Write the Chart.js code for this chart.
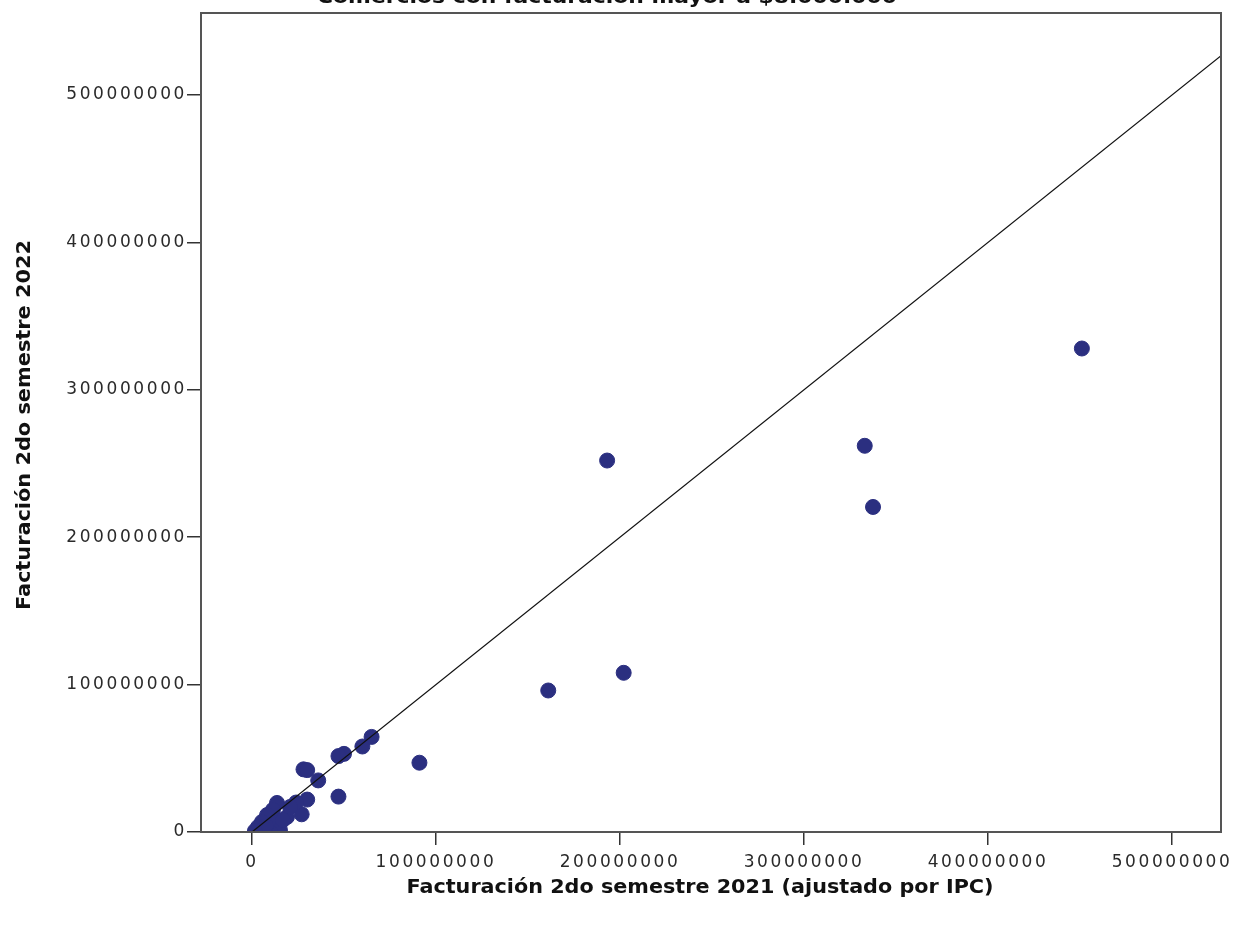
<!DOCTYPE html>
<html>
<head>
<meta charset="utf-8">
<script src="https://cdn.jsdelivr.net/npm/chart.js@4/dist/chart.umd.min.js"></script>
<style>
  body { margin: 0; background: #fff; }
  #wrap { width: 1235px; height: 927px; position: relative; }
</style>
</head>
<body>
<div id="wrap"><canvas id="scatterChart"></canvas></div>
<script>
// facturacion 2do semestre 2021 (ajustado por IPC) vs 2022, one entry per comercio
var facturacion2021 = [
  451000000, 333000000, 337500000, 193000000, 202000000, 161000000, 91000000,
  65000000, 60000000, 50000000, 47000000, 28000000, 30000000, 36000000,
  47000000, 30000000, 27000000, 24000000,
  13600000, 11400000, 8200000, 5400000, 3300000, 13600000, 15200000,
  9800000, 19000000, 20700000, 16800000, 7600000, 1600000
];
var facturacion2022 = [
  328000000, 262000000, 220500000, 252000000, 108000000, 96000000, 47000000,
  64500000, 58000000, 53000000, 51500000, 42500000, 42000000, 35000000,
  24000000, 22000000, 12000000, 20000000,
  19700000, 15000000, 11500000, 6800000, 3400000, 6100000, 1400000,
  200000, 10200000, 17000000, 8100000, 4100000, 700000
];
// linea de referencia y = x
var refLine = [0, 600000000];

var xTicks = [0, 100000000, 200000000, 300000000, 400000000, 500000000];
var yTicks = [0, 100000000, 200000000, 300000000, 400000000, 500000000];

var titulo = "Comercios con facturación mayor a $8.000.000";
var tituloX = "Facturación 2do semestre 2021 (ajustado por IPC)";
var tituloY = "Facturación 2do semestre 2022";

var puntos = facturacion2021.map(function (v, i) {
  return { x: v, y: facturacion2022[i] };
});

// draws text squeezed/stretched to a given width (spss output is stretched sideways)
function fitText(ctx, txt, x, y, width) {
  const w = ctx.measureText(txt).width;
  ctx.save();
  ctx.translate(x, y);
  ctx.scale(width / w, 1);
  ctx.fillText(txt, 0, 0);
  ctx.restore();
}

// spss draws its tick labels widely spaced, so set spacing before measuring/drawing
const spacing = {
  id: "spacing",
  beforeLayout: function (chart) { chart.ctx.letterSpacing = "2.6px"; },
  beforeDraw: function (chart) { chart.ctx.letterSpacing = "2.6px"; },
  afterDraw: function (chart) {
    const ctx = chart.ctx;
    const a = chart.chartArea;
    ctx.save();
    ctx.letterSpacing = "0px";
    // box around the plot
    ctx.strokeStyle = "#555";
    ctx.lineWidth = 2;
    ctx.strokeRect(a.left, a.top, a.right - a.left, a.bottom - a.top);
    // titles
    ctx.fillStyle = "#111";
    ctx.font = 'bold 19px "DejaVu Sans"';
    ctx.textAlign = "center";
    ctx.textBaseline = "alphabetic";
    fitText(ctx, titulo, 607, 3, 580);
    fitText(ctx, tituloX, 700, 893, 587);
    ctx.translate(30, 425);
    ctx.rotate(-Math.PI / 2);
    ctx.font = 'bold 20px "DejaVu Sans Condensed", "DejaVu Sans"';
    fitText(ctx, tituloY, 0, 0, 370);
    ctx.restore();
  }
};

var scatterCanvas = document.getElementById("scatterChart");
var chart = new Chart(scatterCanvas, {
  type: "scatter",
  data: {
    datasets: [
      {
        type: "line",
        data: refLine.map(function (v) { return { x: v, y: v }; }),
        borderColor: "#111",
        borderWidth: 1.2,
        pointRadius: 0,
        fill: false,
        order: 0
      },
      {
        data: puntos,
        backgroundColor: "#2b2f80",
        borderColor: "#2b2f80",
        pointRadius: 7.5,
        order: 1
      }
    ]
  },
  options: {
    responsive: true,
    maintainAspectRatio: false,
    devicePixelRatio: 1,
    animation: false,
    layout: { padding: { left: 0, right: 14, top: 13, bottom: 0 } },
    plugins: { legend: { display: false }, tooltip: { enabled: false } },
    scales: {
      x: {
        type: "linear",
        min: -27700000,
        max: 526600000,
        afterBuildTicks: function (s) { s.ticks = xTicks.map(function (v) { return { value: v }; }); },
        afterFit: function (s) { s.height = 95; s.paddingLeft = 0; s.paddingRight = 0; },
        grid: { drawOnChartArea: false, drawTicks: true, tickLength: 13, color: "#333", lineWidth: 1.5 },
        border: { display: true, color: "#555", width: 2 },
        ticks: {
          color: "#2a2a2a",
          font: { family: "DejaVu Sans", size: 17 },
          padding: 7,
          maxRotation: 0,
          autoSkip: false,
          callback: function (v) { return String(v); }
        }
      },
      y: {
        type: "linear",
        min: 0,
        max: 555600000,
        afterBuildTicks: function (s) { s.ticks = yTicks.map(function (v) { return { value: v }; }); },
        afterFit: function (s) { s.width = 201; s.paddingTop = 0; s.paddingBottom = 0; },
        grid: { drawOnChartArea: false, drawTicks: true, tickLength: 14, color: "#333", lineWidth: 1.5 },
        border: { display: true, color: "#555", width: 2 },
        ticks: {
          color: "#2a2a2a",
          font: { family: "DejaVu Sans", size: 17 },
          padding: 0,
          autoSkip: false,
          callback: function (v) { return String(v); }
        }
      }
    }
  },
  plugins: [spacing]
});
</script>
</body>
</html>
